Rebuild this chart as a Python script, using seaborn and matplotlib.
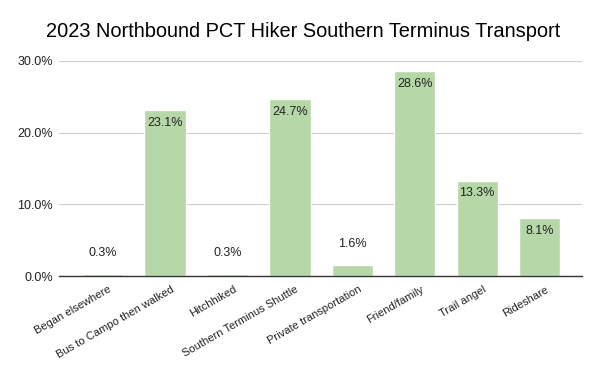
import matplotlib
matplotlib.use("Agg")
import matplotlib.pyplot as plt
import matplotlib.transforms as mtransforms
import seaborn as sns
import pandas as pd
from matplotlib.ticker import PercentFormatter

categories = ["Began elsewhere", "Bus to Campo then walked", "Hitchhiked",
              "Southern Terminus Shuttle", "Private transportation",
              "Friend/family", "Trail angel", "Rideshare"]
values = [0.3, 23.1, 0.3, 24.7, 1.6, 28.6, 13.3, 8.1]
yticks = [0, 10, 20, 30]

sns.set_theme(style="white")
plt.rcParams['font.family'] = ['Liberation Sans', 'DejaVu Sans']

df = pd.DataFrame({"cat": categories, "val": values})
fig = plt.figure(figsize=(6, 3.71), dpi=100)
ax = fig.add_axes([0.0983, 0.256, 0.8717, 0.5796])
sns.barplot(data=df, x="cat", y="val", color="#b6d7a8", width=0.66,
            saturation=1, ax=ax)
ax.set_xlim(-0.70, 7.68)
ax.set_ylim(0, 30)
ax.set_yticks(yticks)
ax.yaxis.set_major_formatter(PercentFormatter(decimals=1))
ax.grid(axis="y", color="#cccccc", linewidth=0.8)
ax.set_axisbelow(True)
for s in ["top", "right", "left"]:
    ax.spines[s].set_visible(False)
ax.spines["bottom"].set_color("#333333")
ax.spines["bottom"].set_linewidth(1.0)
ax.set_xlabel("")
ax.set_ylabel("")
ax.tick_params(axis="y", length=0, labelsize=9, colors="#222222", pad=4.5)
ax.tick_params(axis="x", length=0, labelsize=8, colors="#222222", pad=6)
offset = mtransforms.ScaledTranslation(4 / 72, 0, fig.dpi_scale_trans)
for lab in ax.get_xticklabels():
    lab.set_rotation(30)
    lab.set_ha("right")
    lab.set_rotation_mode("anchor")
    lab.set_transform(lab.get_transform() + offset)

for i, v in enumerate(values):
    if v > 5:
        ax.annotate(f"{v:.1f}%", (i, v), xytext=(0, -9.2), textcoords="offset points",
                    ha="center", va="center", fontsize=9, color="#222222")
    else:
        ax.annotate(f"{v:.1f}%", (i, v), xytext=(0, 15), textcoords="offset points",
                    ha="center", va="center", fontsize=9, color="#222222")

fig.text(0.506, 0.914, "2023 Northbound PCT Hiker Southern Terminus Transport",
         ha="center", va="center", fontsize=14.4, color="black")
fig.savefig("out.png", dpi=100)
